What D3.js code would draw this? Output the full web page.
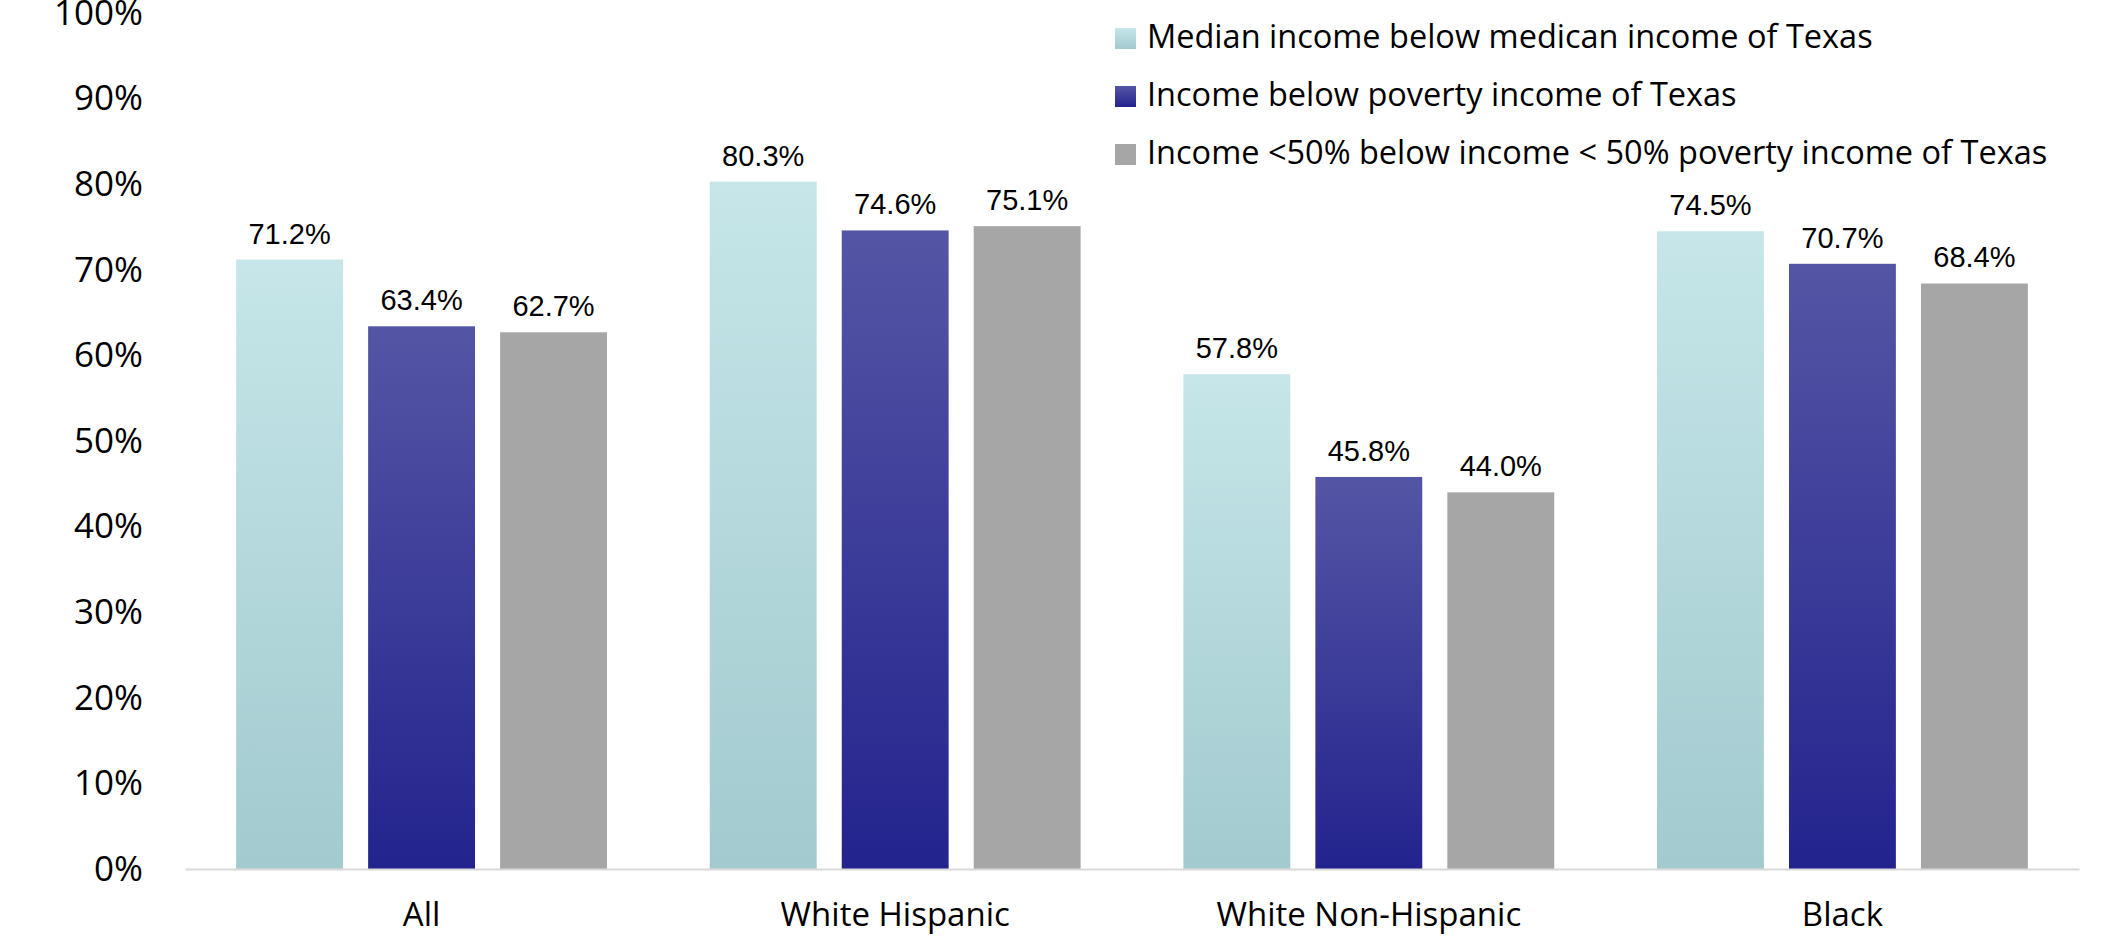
<!DOCTYPE html>
<html>
<head>
<meta charset="utf-8">
<script src="https://cdn.jsdelivr.net/npm/d3@7"></script>
<style>
  body { margin: 0; background: #fff; }
  svg { display: block; }
</style>
</head>
<body>
<figure id="chart" style="margin:0"></figure>
<script>
// categories and series
const groups = ["All", "White Hispanic", "White Non-Hispanic", "Black"]
const seriesNames = [
  "Median income below medican income of Texas",
  "Income below poverty income of Texas",
  "Income <50% below income < 50% poverty income of Texas"
]
const medianBelow = [71.2, 80.3, 57.8, 74.5]
const povertyBelow = [63.4, 74.6, 45.8, 70.7]
const halfPovertyBelow = [62.7, 75.1, 44.0, 68.4]
const yTicks = [0, 10, 20, 30, 40, 50, 60, 70, 80, 90, 100]

const width = 2117, height = 939
const margin = {top: 13, right: 38, bottom: 70, left: 185}

const svg = d3.select("figure#chart")
  .append("svg")
  .attr("width", width)
  .attr("height", height)

// gradients for the two coloured series
const defs = svg.append("defs")
function addGradient(id, top, bottom) {
  let g = defs.append("linearGradient")
    .attr("id", id)
    .attr("x1", 0).attr("y1", 0).attr("x2", 0).attr("y2", 1)
  g.append("stop").attr("offset", "0%").attr("stop-color", top)
  g.append("stop").attr("offset", "100%").attr("stop-color", bottom)
}
addGradient("gTeal", "#c6e6e9", "#a2cacf")
addGradient("gBlue", "#5555a5", "#23238e")

const fills = ["url(#gTeal)", "url(#gBlue)", "#a6a6a6"]

const x0 = d3.scaleBand()
  .domain(groups)
  .range([margin.left, width - margin.right])
  .paddingInner(0.217)
  .paddingOuter(0.108)

const x1 = d3.scaleBand()
  .domain(d3.range(3))
  .range([0, x0.bandwidth()])
  .paddingInner(0.19)

const y = d3.scaleLinear()
  .domain([0, 100])
  .range([height - margin.bottom, margin.top])

// y axis labels (no line, no ticks)
const yAxis = svg.append("g")
  .attr("transform", `translate(${margin.left},0)`)
  .call(d3.axisLeft(y).tickValues(yTicks).tickFormat(d => d + "%").tickSize(0).tickPadding(42))
yAxis.select(".domain").remove()
yAxis.selectAll("text")
  .attr("font-family", "'Open Sans', sans-serif")
  .attr("font-size", 35)
  .attr("fill", "#000")

const data = groups.map((g, i) => ({
  group: g,
  values: [medianBelow[i], povertyBelow[i], halfPovertyBelow[i]]
}))

const groupG = svg.selectAll("g.grp")
  .data(data)
  .enter().append("g")
  .attr("class", "grp")
  .attr("transform", d => `translate(${x0(d.group)},0)`)

groupG.selectAll("rect")
  .data(d => d.values)
  .enter().append("rect")
  .attr("x", (d, i) => x1(i))
  .attr("y", d => y(d))
  .attr("width", x1.bandwidth())
  .attr("height", d => y(0) - y(d))
  .attr("fill", (d, i) => fills[i])

groupG.selectAll("text.val")
  .data(d => d.values)
  .enter().append("text")
  .attr("class", "val")
  .attr("x", (d, i) => x1(i) + x1.bandwidth() / 2)
  .attr("y", d => y(d) - 16)
  .attr("text-anchor", "middle")
  .attr("font-family", "'Liberation Sans', Arial, sans-serif")
  .attr("font-size", 29)
  .attr("fill", "#000")
  .text(d => d.toFixed(1) + "%")

// x axis line and category labels
const xAxis = svg.append("g")
  .attr("transform", `translate(0,${y(0)})`)
  .call(d3.axisBottom(x0).tickSize(0).tickPadding(34))
xAxis.select(".domain")
  .attr("stroke", "#d9d9d9")
  .attr("stroke-width", 2)
xAxis.selectAll("text")
  .attr("font-family", "'Open Sans', sans-serif")
  .attr("font-size", 33)
  .attr("fill", "#000")

// legend
const legend = svg.append("g")
  .attr("transform", "translate(1115,28)")
const item = legend.selectAll("g")
  .data(seriesNames)
  .enter().append("g")
  .attr("transform", (d, i) => `translate(0,${i * 58})`)
item.append("rect")
  .attr("width", 21)
  .attr("height", 21)
  .attr("fill", (d, i) => fills[i])
item.append("text")
  .attr("x", 32)
  .attr("y", 20)
  .attr("font-family", "'Open Sans', sans-serif")
  .attr("font-size", 32.5)
  .attr("fill", "#000")
  .text(d => d)
</script>
</body>
</html>
